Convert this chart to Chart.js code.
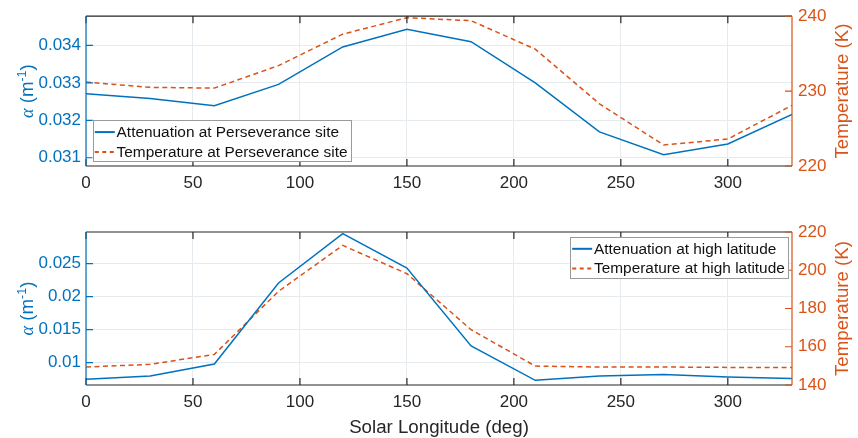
<!DOCTYPE html>
<html>
<head>
<meta charset="utf-8">
<script src="https://cdn.jsdelivr.net/npm/chart.js@4.4.1/dist/chart.umd.min.js"></script>
<style>
  html, body { margin: 0; padding: 0; background: #fff; }
  #wrap { position: relative; width: 858px; height: 438px; }
  .panel { position: absolute; left: 0; width: 858px; }
  #topPanel { top: 0; height: 200px; }
  #bottomPanel { top: 200px; height: 238px; }
</style>
</head>
<body>
<div id="wrap">
  <div class="panel" id="topPanel"><canvas id="topChart" width="858" height="200"></canvas></div>
  <div class="panel" id="bottomPanel"><canvas id="bottomChart" width="858" height="238"></canvas></div>
</div>
<script>
// Solar longitude samples (deg)
const solarLongitude = [0, 30, 60, 90, 120, 150, 180, 210, 240, 270, 300, 330];

// Perseverance site
const attenPerseverance = [0.03271, 0.03258, 0.03239, 0.03296, 0.03396, 0.03443, 0.03410, 0.03300, 0.03169, 0.03108, 0.03137, 0.03216];
const tempPerseverance = [231.2, 230.5, 230.4, 233.4, 237.6, 239.8, 239.4, 235.6, 228.3, 222.8, 223.6, 228.1];

// High latitude
const attenHighLat = [0.00747, 0.00797, 0.00979, 0.02206, 0.02955, 0.02433, 0.01252, 0.00732, 0.00797, 0.00818, 0.00782, 0.00758];
const tempHighLat = [149.4, 150.8, 156.0, 189.0, 213.0, 198.2, 168.9, 149.9, 149.4, 149.4, 149.2, 149.2];

// Tick positions
const xTicks = [0, 50, 100, 150, 200, 250, 300];
const perseveranceAlphaTicks = [0.031, 0.032, 0.033, 0.034];
const perseveranceTempTicks = [220, 230, 240];
const highLatAlphaTicks = [0.01, 0.015, 0.02, 0.025];
const highLatTempTicks = [140, 160, 180, 200, 220];

const BLUE = '#0072BD';
const ORANGE = '#D95319';
const INK = '#262626';
const FONT = "'Liberation Sans', Arial, Helvetica, sans-serif";
const GRID = '#e6ebf0';

function toPoints(ys) {
    return solarLongitude.map((x, i) => ({ x, y: ys[i] }));
}

function fixedTicks(values) {
    return scale => { scale.ticks = values.map(v => ({ value: v })); };
}

// box edges, inward ticks, axis titles and the legend
const axesFrame = {
    id: 'axesFrame',
    afterDatasetsDraw(chart) {
        const { ctx, chartArea: a, scales } = chart;
        const len = 7;
        ctx.save();
        ctx.lineWidth = 1.2;

        ctx.strokeStyle = INK;
        ctx.beginPath();
        ctx.moveTo(a.left, a.top); ctx.lineTo(a.right, a.top);
        ctx.moveTo(a.left, a.bottom); ctx.lineTo(a.right, a.bottom);
        scales.x.ticks.forEach(t => {
            const px = scales.x.getPixelForValue(t.value);
            ctx.moveTo(px, a.bottom); ctx.lineTo(px, a.bottom - len);
            ctx.moveTo(px, a.top); ctx.lineTo(px, a.top + len);
        });
        ctx.stroke();

        ctx.strokeStyle = BLUE;
        ctx.beginPath();
        ctx.moveTo(a.left, a.top); ctx.lineTo(a.left, a.bottom);
        scales.yL.ticks.forEach(t => {
            const py = scales.yL.getPixelForValue(t.value);
            ctx.moveTo(a.left, py); ctx.lineTo(a.left + len, py);
        });
        ctx.stroke();

        ctx.strokeStyle = ORANGE;
        ctx.beginPath();
        ctx.moveTo(a.right, a.top); ctx.lineTo(a.right, a.bottom);
        scales.yR.ticks.forEach(t => {
            const py = scales.yR.getPixelForValue(t.value);
            ctx.moveTo(a.right, py); ctx.lineTo(a.right - len, py);
        });
        ctx.stroke();
        ctx.restore();
    },
    afterDraw(chart, args, opts) {
        const { ctx, chartArea: a } = chart;
        const cy = (a.top + a.bottom) / 2;
        ctx.save();
        ctx.textBaseline = 'alphabetic';

        // left title: α (m^-1)
        const big = `18.7px ${FONT}`;
        const small = `12.5px ${FONT}`;
        const greek = `italic 18px 'Liberation Serif', serif`;
        const parts = [
            { t: '\u03b1', f: greek, up: 0 },
            { t: ' (m', f: big, up: 0 },
            { t: '-1', f: small, up: 7.5 },
            { t: ')', f: big, up: 0 }
        ];
        let total = 0;
        parts.forEach(p => { ctx.font = p.f; p.w = ctx.measureText(p.t).width; total += p.w; });
        ctx.save();
        ctx.translate(33, cy);
        ctx.rotate(-Math.PI / 2);
        ctx.fillStyle = BLUE;
        ctx.textAlign = 'left';
        let u = -total / 2;
        parts.forEach(p => { ctx.font = p.f; ctx.fillText(p.t, u, -p.up); u += p.w; });
        ctx.restore();

        // right title
        ctx.save();
        ctx.translate(848, cy);
        ctx.rotate(-Math.PI / 2);
        ctx.fillStyle = ORANGE;
        ctx.textAlign = 'center';
        ctx.font = big;
        ctx.fillText('Temperature (K)', 0, 0);
        ctx.restore();

        if (opts.xTitle) {
            ctx.fillStyle = INK;
            ctx.textAlign = 'center';
            ctx.font = big;
            ctx.fillText(opts.xTitle, (a.left + a.right) / 2, a.bottom + 48);
        }

        // legend box
        const lg = opts.legend;
        const ds = chart.data.datasets;
        ctx.font = `15.4px ${FONT}`;
        const textW = Math.max(...ds.map(d => ctx.measureText(d.label).width));
        const w = 2.3 + 20 + 1.8 + textW + 3.2;
        const h = 41;
        const bx = lg.align === 'left' ? a.left + lg.dx : a.right - lg.dx - w;
        const by = lg.valign === 'bottom' ? a.bottom - lg.dy - h : a.top + lg.dy;
        ctx.fillStyle = '#fff';
        ctx.fillRect(bx, by, w, h);
        ctx.strokeStyle = '#9a9a9a';
        ctx.lineWidth = 1;
        ctx.strokeRect(Math.round(bx) + 0.5, Math.round(by) + 0.5, Math.round(w), Math.round(h));
        ds.forEach((d, i) => {
            const ly = by + 11.8 + i * 19.8;
            ctx.strokeStyle = d.borderColor;
            ctx.lineWidth = 2;
            ctx.setLineDash(d.borderDash && d.borderDash.length ? [4, 3.5] : []);
            ctx.beginPath();
            ctx.moveTo(bx + 2.3, ly); ctx.lineTo(bx + 22.3, ly);
            ctx.stroke();
            ctx.setLineDash([]);
            ctx.fillStyle = '#111';
            ctx.textAlign = 'left';
            ctx.textBaseline = 'middle';
            ctx.fillText(d.label, bx + 24.1, ly + 0.5);
        });
        ctx.restore();
    }
};

function makeChart(id, cfg) {
    return new Chart(document.getElementById(id), {
        type: 'line',
        data: {
            datasets: [
                {
                    label: cfg.attenLabel,
                    data: toPoints(cfg.atten),
                    yAxisID: 'yL',
                    borderColor: BLUE,
                    borderWidth: 1.5,
                    pointRadius: 0,
                    tension: 0
                },
                {
                    label: cfg.tempLabel,
                    data: toPoints(cfg.temp),
                    yAxisID: 'yR',
                    borderColor: ORANGE,
                    borderWidth: 1.5,
                    borderDash: [5, 3.5],
                    pointRadius: 0,
                    tension: 0
                }
            ]
        },
        options: {
            responsive: false,
            animation: false,
            layout: { padding: { top: cfg.padTop, left: 0, right: 0, bottom: 0 } },
            plugins: {
                legend: { display: false },
                tooltip: { enabled: false },
                axesFrame: { xTitle: cfg.xTitle, legend: cfg.legend }
            },
            scales: {
                x: {
                    type: 'linear',
                    min: 0,
                    max: 330,
                    afterBuildTicks: fixedTicks(xTicks),
                    afterFit: s => { s.height = cfg.xHeight; },
                    grid: { color: GRID, lineWidth: 1, drawTicks: false },
                    border: { display: false },
                    ticks: { color: INK, padding: 7, font: { family: FONT, size: 17 }, maxRotation: 0 }
                },
                yL: {
                    type: 'linear',
                    position: 'left',
                    min: cfg.leftMin,
                    max: cfg.leftMax,
                    afterBuildTicks: fixedTicks(cfg.leftTicks),
                    afterFit: s => { s.width = 86; },
                    grid: { color: GRID, lineWidth: 1, drawTicks: false },
                    border: { display: false },
                    ticks: { color: BLUE, padding: 5, font: { family: FONT, size: 17 }, callback: v => String(v) }
                },
                yR: {
                    type: 'linear',
                    position: 'right',
                    min: cfg.rightMin,
                    max: cfg.rightMax,
                    afterBuildTicks: fixedTicks(cfg.rightTicks),
                    afterFit: s => { s.width = 66; },
                    grid: { display: false, drawTicks: false },
                    border: { display: false },
                    ticks: { color: ORANGE, padding: 6, font: { family: FONT, size: 17 }, callback: v => String(v) }
                }
            }
        },
        plugins: [axesFrame]
    });
}

makeChart('topChart', {
    atten: attenPerseverance,
    temp: tempPerseverance,
    attenLabel: 'Attenuation at Perseverance site',
    tempLabel: 'Temperature at Perseverance site',
    leftMin: 0.03078, leftMax: 0.03478, leftTicks: perseveranceAlphaTicks,
    rightMin: 220, rightMax: 240, rightTicks: perseveranceTempTicks,
    padTop: 12, xHeight: 34,
    legend: { align: 'left', valign: 'bottom', dx: 6.5, dy: 4.7 }
});

makeChart('bottomChart', {
    atten: attenHighLat,
    temp: tempHighLat,
    attenLabel: 'Attenuation at high latitude',
    tempLabel: 'Temperature at high latitude',
    leftMin: 0.006606, leftMax: 0.029788, leftTicks: highLatAlphaTicks,
    rightMin: 140, rightMax: 220, rightTicks: highLatTempTicks,
    padTop: 32, xHeight: 53,
    xTitle: 'Solar Longitude (deg)',
    legend: { align: 'right', valign: 'top', dx: 4, dy: 5 }
});
</script>
</body>
</html>
